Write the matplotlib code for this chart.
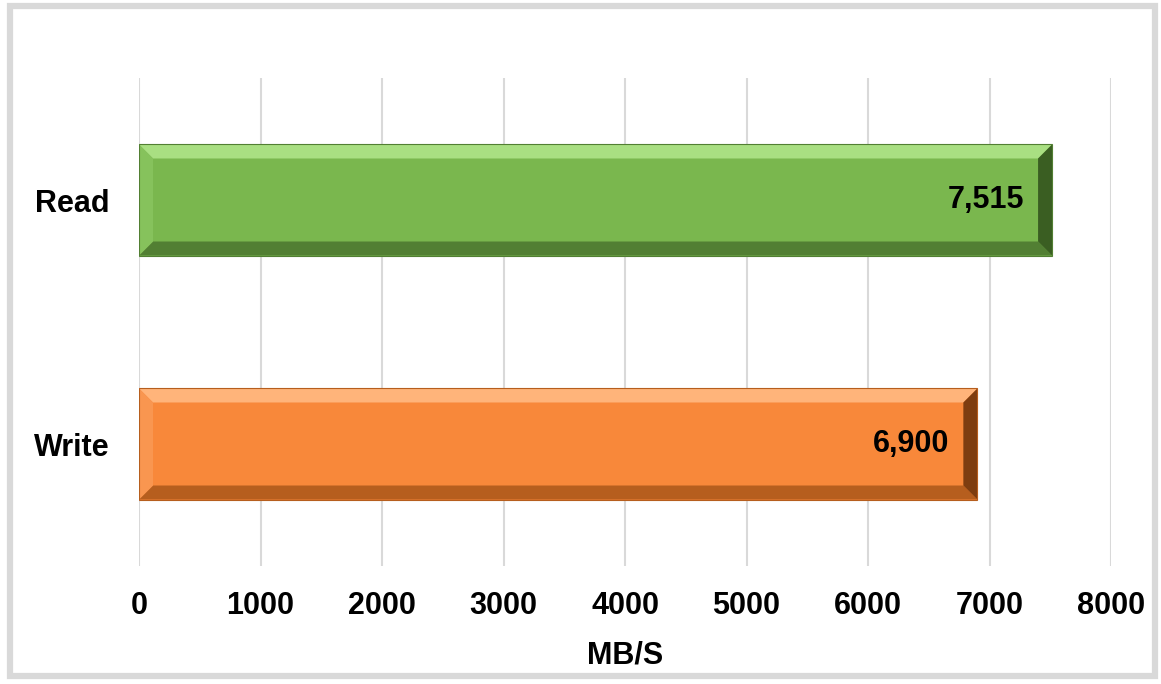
import matplotlib.pyplot as plt
from matplotlib.patches import Polygon, Rectangle
from matplotlib.ticker import FuncFormatter

plt.rcParams['font.family'] = ['Liberation Sans', 'DejaVu Sans']

categories = ["Read", "Write"]
speeds = [7515, 6900]
face_colors = ["#7AB74E", "#F8883A"]
top_colors = ["#A9DF82", "#FFB47A"]
left_colors = ["#86C25C", "#F99650"]
bottom_colors = ["#527F33", "#B65E1E"]
right_colors = ["#3A5E22", "#7E3D10"]

fig = plt.figure(figsize=(11.61, 6.84), dpi=100)
W, H = 1161, 684
ax = fig.add_axes([139 / W, 1 - 566 / H, (1111 - 139) / W, (566 - 78) / H])

# outer frame
fig.patches.append(Rectangle((10 / W, 8 / H), 1145 / W, 670 / H, transform=fig.transFigure,
                             fill=False, edgecolor="#D9D9D9", linewidth=4.5, zorder=0))

pos = list(range(len(categories)))
bars = ax.barh(pos, speeds, height=0.455, color=face_colors, zorder=2)
ax.set_xlim(0, 8000)
ax.set_ylim(-0.5, 1.5)
ax.invert_yaxis()

# bevel edges, width in pixels converted to data units
bev = 14
dx = bev * 8000 / 972
dy = bev * 2 / 488
for i, b in enumerate(bars):
    x0, y0 = b.get_x(), b.get_y()
    x1, y1 = x0 + b.get_width(), y0 + b.get_height()
    # axis inverted: y0 is visually the top
    top = [(x0, y0), (x1, y0), (x1 - dx, y0 + dy), (x0 + dx, y0 + dy)]
    bottom = [(x0, y1), (x1, y1), (x1 - dx, y1 - dy), (x0 + dx, y1 - dy)]
    left = [(x0, y0), (x0 + dx, y0 + dy), (x0 + dx, y1 - dy), (x0, y1)]
    right = [(x1, y0), (x1 - dx, y0 + dy), (x1 - dx, y1 - dy), (x1, y1)]
    for pts, c in [(top, top_colors[i]), (bottom, bottom_colors[i]),
                   (left, left_colors[i]), (right, right_colors[i])]:
        ax.add_patch(Polygon(pts, closed=True, facecolor=c, edgecolor="none", zorder=3))
    ax.add_patch(Rectangle((x0, y0), b.get_width(), b.get_height(), fill=False,
                           edgecolor=bottom_colors[i], linewidth=0.8, zorder=4))
    ax.text(x1 - 28 * 8000 / 972, (y0 + y1) / 2, f"{speeds[i]:,}", ha="right", va="center",
            fontsize=22, fontweight="bold", color="black", zorder=5)

ax.set_yticks(pos)
ax.set_yticklabels(categories, fontsize=22, fontweight="bold")
ax.set_xticks(range(0, 8001, 1000))
ax.xaxis.set_major_formatter(FuncFormatter(lambda v, p: f"{int(v)}"))
for lab in ax.get_xticklabels():
    lab.set_fontsize(22)
    lab.set_fontweight("bold")
ax.tick_params(axis="both", length=0)
ax.tick_params(axis="x", pad=18)
ax.tick_params(axis="y", pad=21)
ax.grid(axis="x", color="#D9D9D9", linewidth=1.5, zorder=0)
ax.set_axisbelow(True)
for s in ax.spines.values():
    s.set_visible(False)
ax.set_xlabel("MB/S", fontsize=22, fontweight="bold", labelpad=14)

fig.savefig("out.png", dpi=100)
